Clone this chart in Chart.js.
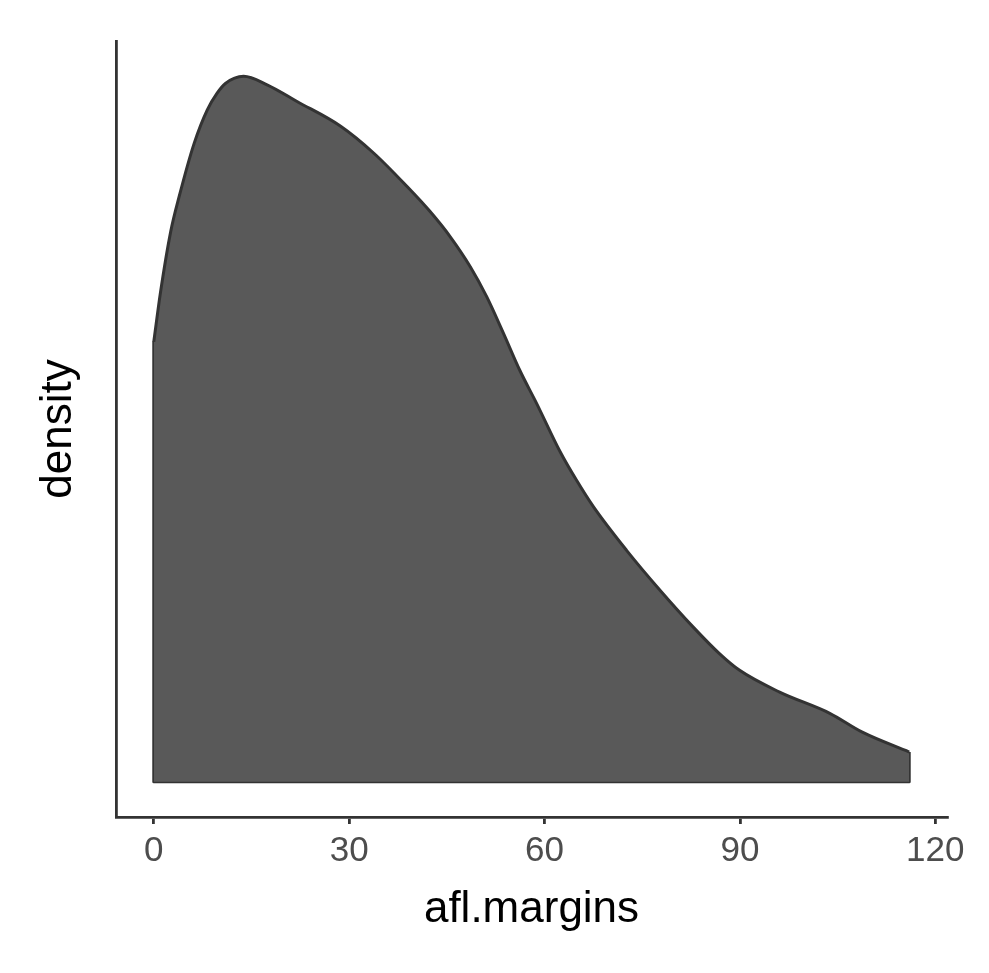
<!DOCTYPE html>
<html>
<head>
<meta charset="utf-8">
<title>afl.margins density</title>
<script src="https://cdn.jsdelivr.net/npm/chart.js@4.4.1/dist/chart.umd.min.js"></script>
<style>
  html, body { margin: 0; padding: 0; background: #fff; }
  #wrap { width: 989px; height: 973px; position: relative; }
</style>
</head>
<body>
<div id="wrap"><canvas id="densityChart"></canvas></div>
<script>
// estimated kernel density of afl.margins
const margins = [0, 1, 2.6, 3.9, 6.2, 8.2, 9.7, 11, 13.8, 17.4, 22, 28.7, 33.8, 38.9,
  42.4, 45.5, 48.6, 51.1, 53.7, 56.2, 58.8, 62.4, 64.9, 67.5, 72.6, 77.7, 82.8, 86.9,
  89.9, 96.1, 103.8, 108.8, 116];
const density = [0.00977, 0.01084, 0.01222, 0.01300, 0.01418, 0.01492, 0.01529, 0.01551,
  0.01567, 0.01548, 0.01511, 0.01456, 0.01396, 0.01322,
  0.01267, 0.01211, 0.01144, 0.01078, 0.00996, 0.00914, 0.00840, 0.00733, 0.00670,
  0.00611, 0.00514, 0.00426, 0.00344, 0.00284,
  0.00248, 0.00199, 0.00152, 0.00110, 0.00066];
const xTicks = [0, 30, 60, 90, 120];

const axisColor = '#333333';
const fontFamily = '"Liberation Sans", Arial, Helvetica, sans-serif';

let curve = margins.map(function (m, i) { return { x: m, y: density[i] }; });

// the closing edges of the area: down at both ends and along the base
let first = margins[0], last = margins[margins.length - 1];
let edges = [
  { x: first, y: density[0] },
  { x: first, y: 0 },
  { x: last, y: 0 },
  { x: last, y: density[density.length - 1] }
];

let xSpan = last - first;
let yMax = Math.max.apply(null, density);

new Chart(document.getElementById('densityChart').getContext('2d'), {
  type: 'line',
  data: {
    datasets: [
      {
        data: curve,
        fill: 'origin',
        backgroundColor: '#595959',
        borderColor: axisColor,
        borderWidth: 3,
        cubicInterpolationMode: 'monotone',
        pointRadius: 0
      },
      {
        data: edges,
        fill: false,
        borderColor: axisColor,
        borderWidth: 3,
        borderJoinStyle: 'round',
        tension: 0,
        pointRadius: 0
      }
    ]
  },
  options: {
    responsive: true,
    maintainAspectRatio: false,
    animation: false,
    devicePixelRatio: 1,
    layout: { padding: { top: 41, right: 42, left: 0, bottom: 0 } },
    plugins: {
      legend: { display: false },
      tooltip: { enabled: false }
    },
    scales: {
      x: {
        type: 'linear',
        min: first - 0.05 * xSpan,
        max: last + 0.05 * xSpan,
        afterBuildTicks: function (scale) {
          scale.ticks = xTicks.map(function (v) { return { value: v }; });
        },
        afterFit: function (scale) { scale.height = 156; },
        grid: {
          drawOnChartArea: false,
          drawTicks: true,
          tickLength: 7,
          color: axisColor,
          lineWidth: 2.8
        },
        border: { display: true, color: axisColor, width: 2.8 },
        ticks: {
          color: '#4d4d4d',
          padding: 6,
          maxRotation: 0,
          autoSkip: false,
          font: { family: fontFamily, size: 35 }
        },
        title: {
          display: true,
          text: 'afl.margins',
          color: '#000',
          padding: { top: 0, bottom: 37 },
          font: { family: fontFamily, size: 44 }
        }
      },
      y: {
        type: 'linear',
        min: -0.05 * yMax,
        max: 1.05 * yMax,
        afterFit: function (scale) { scale.width = 116; },
        grid: { display: false },
        border: { display: true, color: axisColor, width: 2.8 },
        ticks: { display: false },
        title: {
          display: true,
          text: 'density',
          color: '#000',
          padding: { top: 32, bottom: 0 },
          font: { family: fontFamily, size: 44 }
        }
      }
    }
  }
});
</script>
</body>
</html>
